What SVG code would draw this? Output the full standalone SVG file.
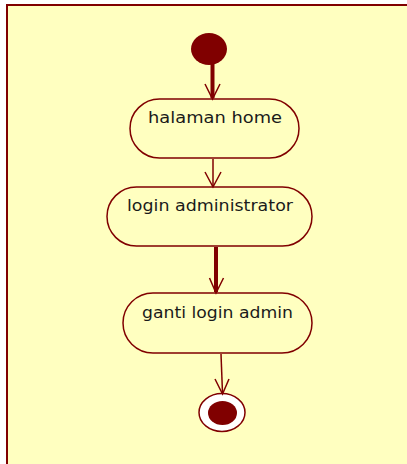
<svg xmlns="http://www.w3.org/2000/svg" width="407" height="464" viewBox="0 0 407 464">
<style>
.node{fill:#FFFFC0;stroke:#800000;stroke-width:1.5}
.lbl{font-family:"DejaVu Sans","Verdana",sans-serif;font-size:16.5px;fill:#1a1a1a}
.edge{stroke:#800000;fill:none;stroke-width:1.5}
.thick{stroke:#800000;fill:none;stroke-width:4}
.head{stroke:#800000;fill:none;stroke-width:1.5}
</style>
<rect x="0" y="0" width="407" height="464" fill="#ffffff"/>
<rect id="frame" x="7" y="5" width="430" height="490" fill="#FFFFC0" stroke="#800000" stroke-width="2"/>
<g id="start"><ellipse cx="209" cy="49" rx="18" ry="16" fill="#800000"/></g>
<g id="n1"><rect class="node" x="130" y="99" width="169" height="59" rx="29.5" ry="29.5"/><text class="lbl" x="148" y="122.7" textLength="134" lengthAdjust="spacingAndGlyphs">halaman home</text></g>
<g id="n2"><rect class="node" x="107" y="187" width="205" height="59" rx="29.5" ry="29.5"/><text class="lbl" x="127" y="210.5" textLength="166" lengthAdjust="spacingAndGlyphs">login administrator</text></g>
<g id="n3"><rect class="node" x="123" y="293" width="189" height="60" rx="30" ry="30"/><text class="lbl" x="142" y="317.5" textLength="151" lengthAdjust="spacingAndGlyphs">ganti login admin</text></g>
<g id="end"><ellipse cx="222" cy="412.5" rx="23" ry="19" fill="#ffffff" stroke="#800000" stroke-width="1.5"/><ellipse cx="222.5" cy="413" rx="14.5" ry="12" fill="#800000"/></g>
<g id="connectors">
<line class="thick" x1="212.5" y1="64" x2="212.5" y2="98"/>
<polyline class="head" points="205,84 212.5,99 220,84"/>
<line class="edge" x1="213" y1="159" x2="213" y2="186"/>
<polyline class="head" points="205,172 213,187 221,172"/>
<line class="thick" x1="216" y1="247" x2="216" y2="292" stroke-width="6"/>
<polyline class="head" points="209.5,278 216,293 223.5,278"/>
<line class="edge" x1="221" y1="354" x2="222.5" y2="393"/>
<polyline class="head" points="215,379 222.5,394 229,379"/>
</g>
</svg>
